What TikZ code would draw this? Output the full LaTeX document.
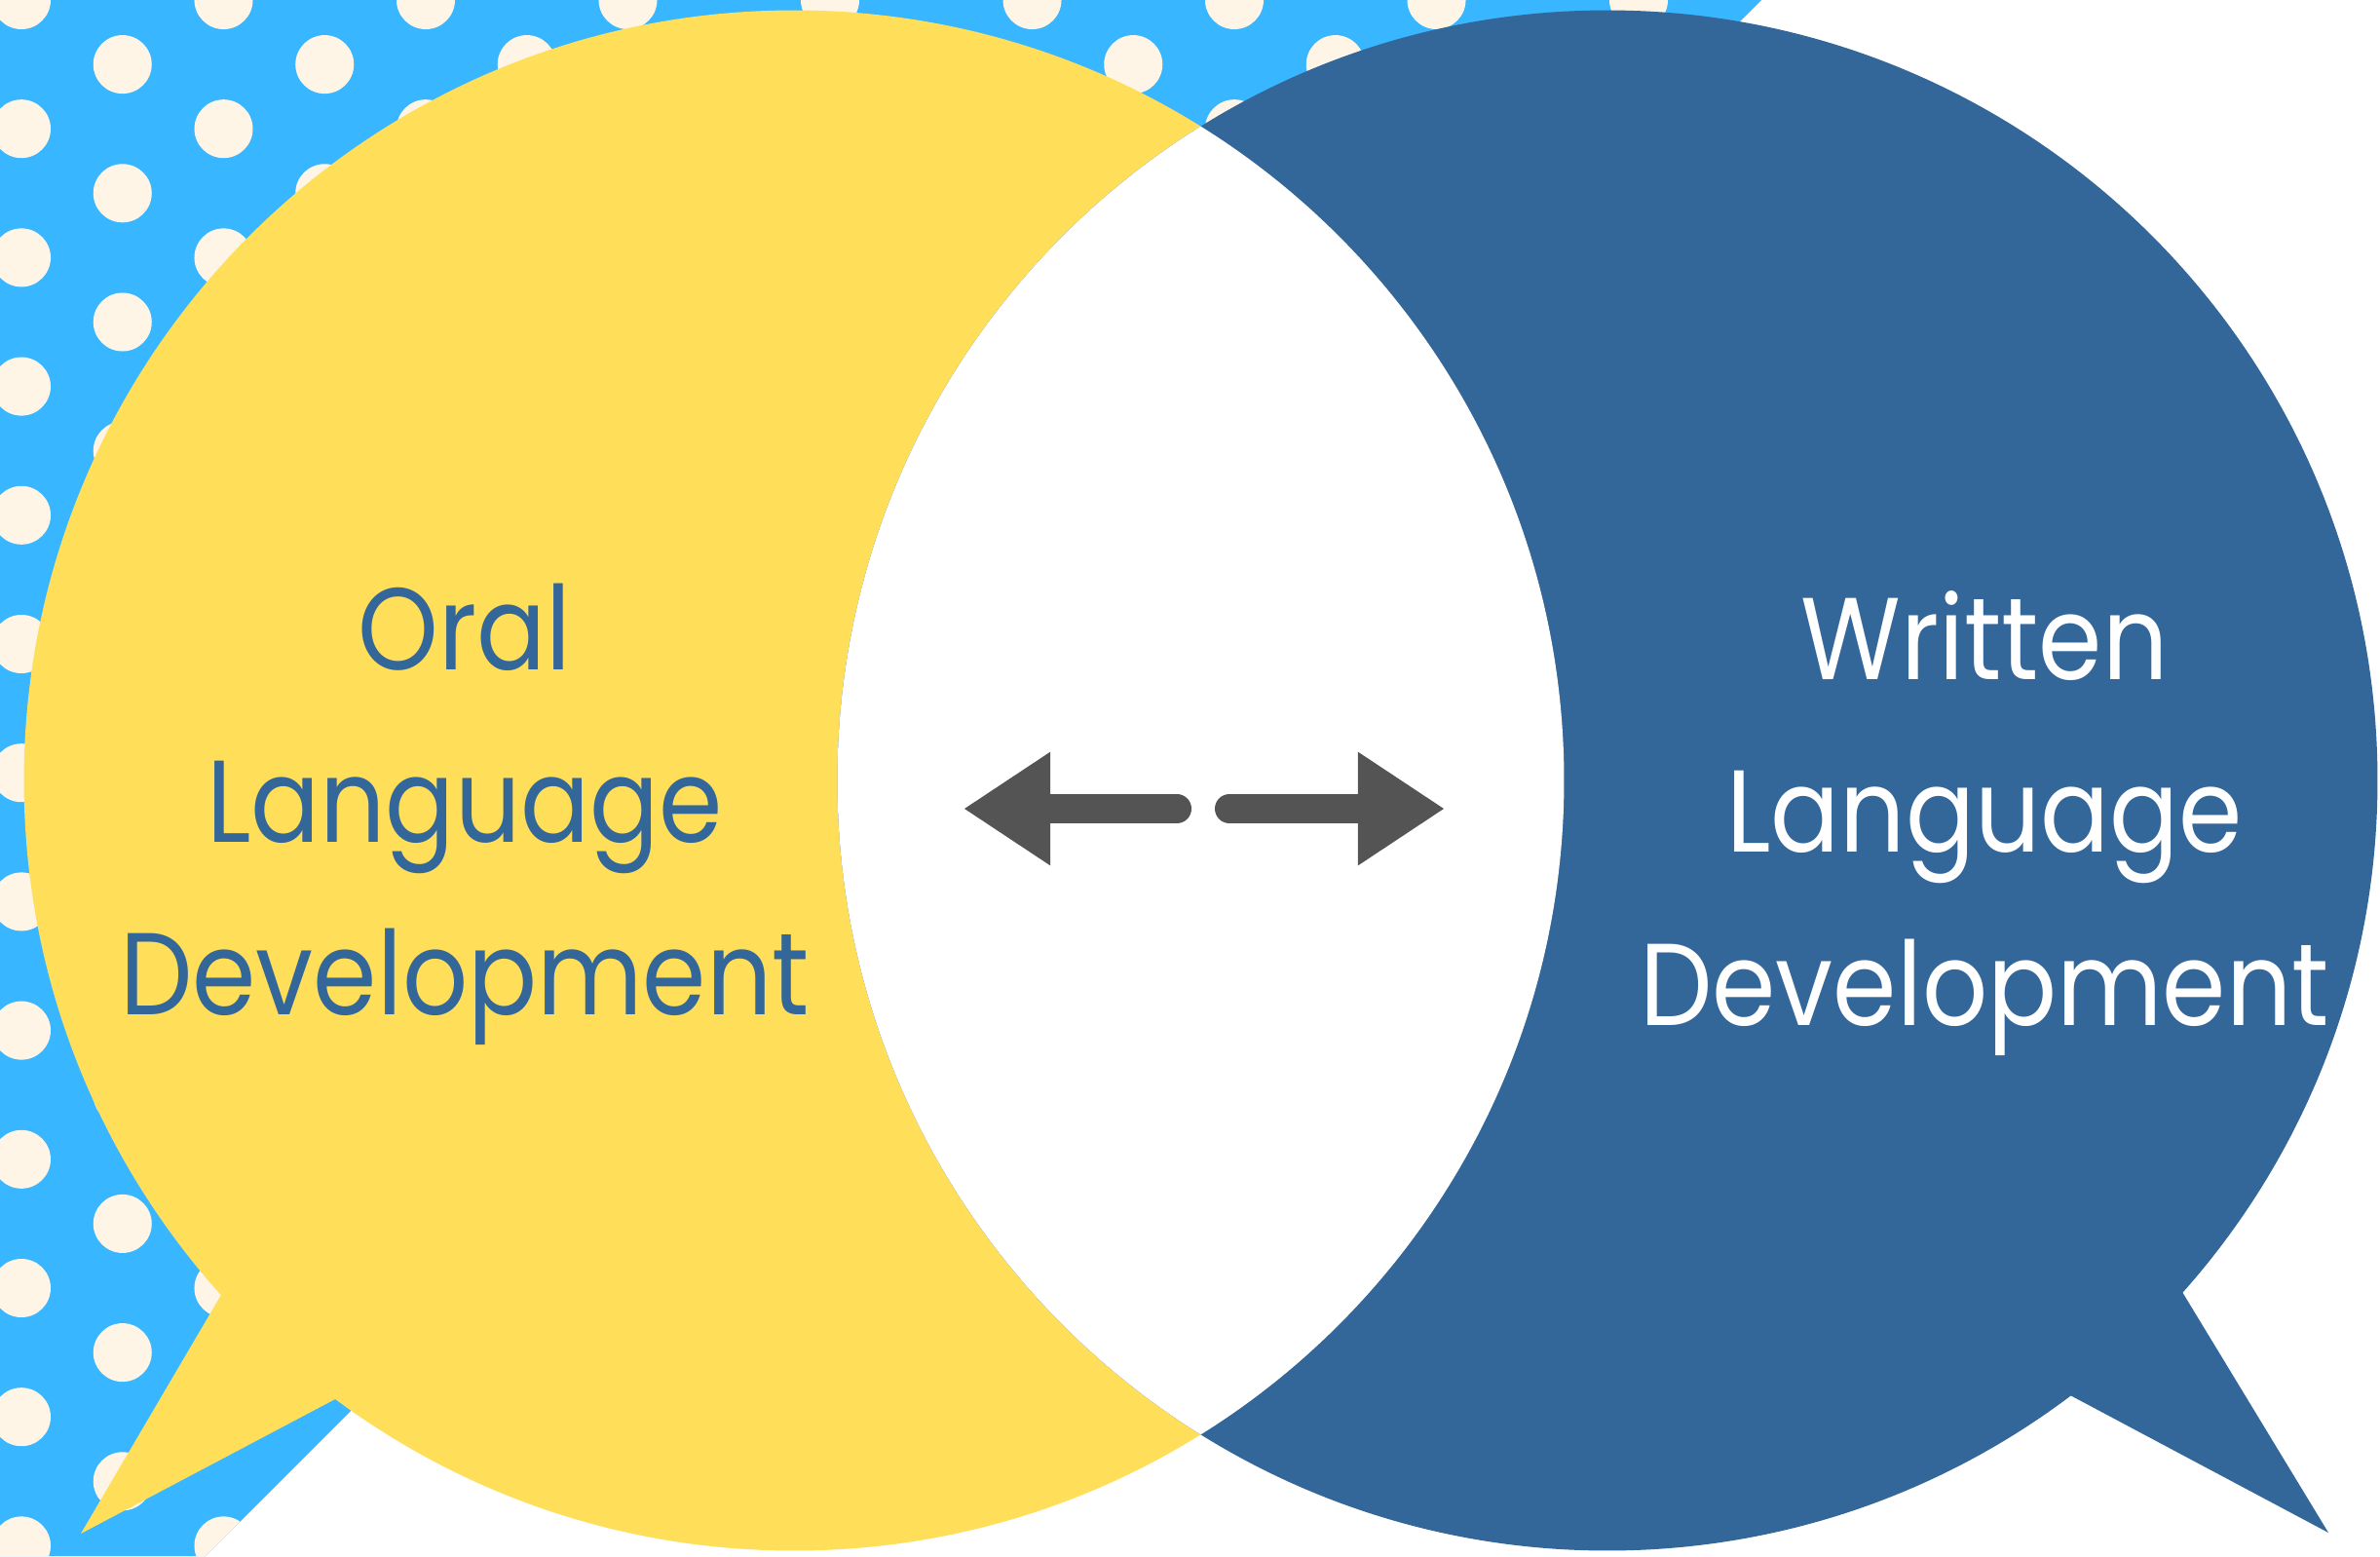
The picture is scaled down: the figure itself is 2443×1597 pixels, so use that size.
\documentclass[tikz,border=0pt]{standalone}
\usepackage{fontspec}
\setmainfont{Poppins}[FakeStretch=0.88]
\usetikzlibrary{arrows.meta}
\definecolor{skyblue}{HTML}{38B6FF}
\definecolor{dotcream}{HTML}{FFF5E6}
\definecolor{bubbleyellow}{HTML}{FFDE59}
\definecolor{bubbleblue}{HTML}{336699}
\definecolor{arrowgrey}{HTML}{545454}

\begin{document}
\begin{tikzpicture}[x=0.01cm,y=-0.01cm,
  bubbletext/.style={align=center,inner sep=0pt,font=\fontsize{34}{50.4}\selectfont},
  twoway/.style={draw=arrowgrey,line width=0.3cm,line cap=round,-{Triangle[length=0.89cm,width=1.1cm]}}]
  % page and polka dot backdrop
  \fill[white] (0,0) rectangle (2443,1597);
  \fill[skyblue] (0,0) -- (1808,0) -- (211,1597) -- (0,1597) -- cycle;
  \begin{scope}
    \clip (0,0) -- (1808,0) -- (211,1597) -- (0,1597) -- cycle;
    \foreach \r in {0,...,24}
      \foreach \c in {0,...,8}{
        \pgfmathsetmacro{\dx}{22+207.5*\c+103.75*mod(\r,2)}
        \fill[dotcream] (\dx,66.1*\r) circle (0.3cm);
      }
  \end{scope}
  % the two speech bubbles
  \coordinate (oralc) at (815,801);
  \coordinate (writc) at (1650,801);
  \fill[bubbleyellow] (oralc) circle (7.9cm);
  \fill[bubbleyellow] (227,1329) -- (83,1574) -- (344,1436) -- (oralc) -- cycle;
  \fill[bubbleblue] (writc) circle (7.9cm);
  \fill[bubbleblue] (2240,1326) -- (2390,1573) -- (2125,1432) -- (writc) -- cycle;
  \begin{scope}
    \clip (oralc) circle (7.9cm);
    \fill[white] (writc) circle (7.9cm);
  \end{scope}
  % labels
  \node[bubbletext,text=bubbleblue](oral) at (477,836){Oral\\Language\\Development};
  \node[bubbletext,text=white](written) at (2037,845){Written\\Language\\Development};
  % arrows
  \coordinate (lefttail) at (1208,830);
  \coordinate (lefttip) at (989,830);
  \coordinate (righttail) at (1262,830);
  \coordinate (righttip) at (1483,830);
  \draw[twoway] (lefttail) -- (lefttip);
  \draw[twoway] (righttail) -- (righttip);
\end{tikzpicture}
\end{document}
